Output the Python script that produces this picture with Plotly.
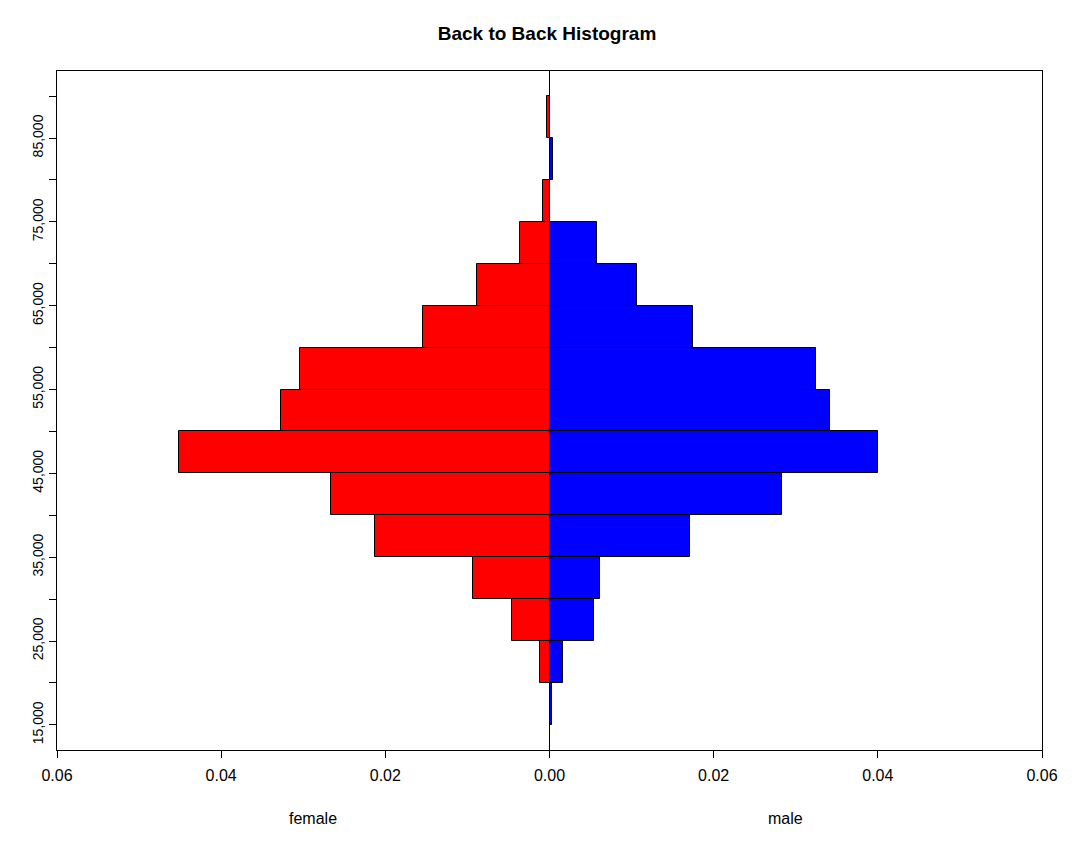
import plotly.graph_objects as go

# income bins (lower edge), width 5000
bin_start = [15000, 20000, 25000, 30000, 35000, 40000, 45000, 50000,
             55000, 60000, 65000, 70000, 75000, 80000, 85000]
bin_width = 5000

# densities
female = [0.0, 0.0012, 0.0046, 0.0093, 0.0212, 0.0266, 0.0451, 0.0327,
          0.0304, 0.0154, 0.0088, 0.0036, 0.0008, 0.0, 0.0003]
male = [0.0003, 0.0016, 0.0054, 0.0062, 0.0171, 0.0283, 0.0400, 0.0342,
        0.0325, 0.0175, 0.0107, 0.0058, 0.0, 0.0004, 0.0]

x_ticks = [-0.06, -0.04, -0.02, 0.0, 0.02, 0.04, 0.06]
y_ticks = list(range(15000, 90001, 5000))

mids = [b + bin_width / 2 for b in bin_start]

fig = go.Figure()
fig.add_trace(go.Bar(
    y=mids, x=[-v for v in female], orientation="h", width=bin_width,
    marker=dict(color="#ff0000", line=dict(color="black", width=1)),
    name="female", showlegend=False,
))
fig.add_trace(go.Bar(
    y=mids, x=male, orientation="h", width=bin_width,
    marker=dict(color="#0000ff", line=dict(color="black", width=1)),
    name="male", showlegend=False,
))

fig.add_shape(type="line", x0=0, x1=0, y0=0, y1=1, xref="x", yref="paper",
              line=dict(color="black", width=1))

fig.add_annotation(x=-0.0288, y=-0.1016, xref="x", yref="paper", text="female",
                   showarrow=False, yanchor="middle", font=dict(size=16, color="black"))
fig.add_annotation(x=0.0288, y=-0.1016, xref="x", yref="paper", text="male",
                   showarrow=False, yanchor="middle", font=dict(size=16, color="black"))

fig.update_layout(
    width=1078, height=843,
    margin=dict(l=49, r=44, t=63, b=101),
    paper_bgcolor="white", plot_bgcolor="white",
    font=dict(family="Liberation Sans, Arial, sans-serif", size=14, color="black"),
    title=dict(text="<b>Back to Back Histogram</b>", x=0.5, xanchor="center",
               y=1 - 25 / 843, yanchor="middle", font=dict(size=19)),
    barmode="overlay", bargap=0,
)
fig.update_xaxes(
    range=[-0.06, 0.06], tickvals=x_ticks,
    ticktext=["%.2f" % abs(v) for v in x_ticks],
    showgrid=False, zeroline=False, showline=True, mirror=True,
    linecolor="black", linewidth=1, ticks="outside", ticklen=7,
    tickcolor="black", tickfont=dict(size=16), ticklabelstandoff=4,
)
fig.update_yaxes(
    range=[12000, 93000], tickvals=y_ticks,
    ticktext=["{:,}".format(v) if (v // 5000) % 2 == 1 else "" for v in y_ticks],
    tickangle=-90, showgrid=False, zeroline=False, showline=True, mirror=True,
    linecolor="black", linewidth=1, ticks="outside", ticklen=7,
    tickcolor="black", tickfont=dict(size=14),
)

fig.write_html("out.html")
